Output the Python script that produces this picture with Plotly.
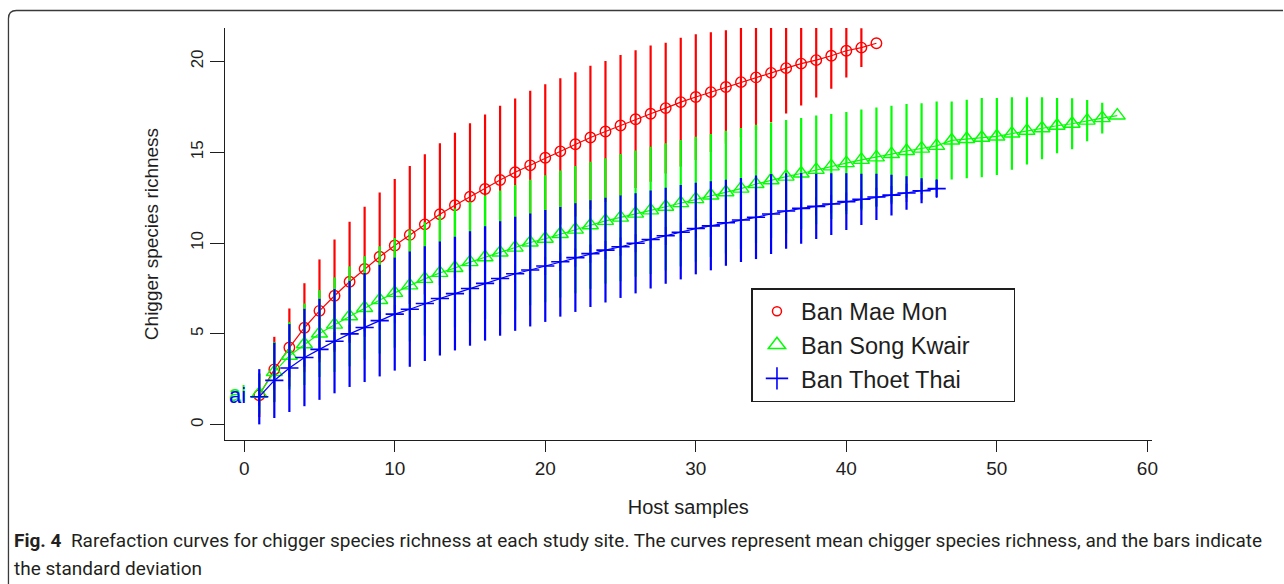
import plotly.graph_objects as go

# Rarefaction curves: mean chigger species richness and SD per number of host samples
samples_mae_mon = list(range(1, 43))
richness_mae_mon = [1.62, 3.05, 4.25, 5.34, 6.27, 7.10, 7.87, 8.57, 9.25, 9.87,
                    10.45, 11.03, 11.59, 12.08, 12.55, 12.98, 13.47, 13.90, 14.28, 14.70,
                    15.05, 15.44, 15.81, 16.14, 16.47, 16.82, 17.12, 17.43, 17.76, 18.04,
                    18.31, 18.59, 18.86, 19.12, 19.37, 19.63, 19.88, 20.07, 20.31, 20.59,
                    20.76, 21.00]
sd_mae_mon = [1.20, 1.79, 2.15, 2.45, 2.83, 3.10, 3.30, 3.43, 3.53, 3.66,
              3.80, 3.86, 3.91, 4.00, 4.05, 4.10, 4.09, 4.06, 4.10, 4.05,
              4.03, 3.97, 3.95, 3.88, 3.88, 3.79, 3.75, 3.60, 3.54, 3.46,
              3.30, 3.12, 3.04, 2.90, 2.72, 2.49, 2.30, 2.06, 1.82, 1.47,
              1.07, 0.00]

samples_song_kwair = list(range(1, 59))
richness_song_kwair = [1.70, 2.90, 3.80, 4.43, 5.02, 5.51, 5.97, 6.43, 6.87, 7.26,
                       7.67, 8.03, 8.36, 8.63, 8.95, 9.22, 9.48, 9.75, 10.03, 10.24,
                       10.50, 10.74, 10.98, 11.22, 11.40, 11.62, 11.80, 12.00, 12.20, 12.42,
                       12.62, 12.80, 13.00, 13.25, 13.46, 13.66, 13.83, 14.03, 14.22, 14.40,
                       14.58, 14.72, 14.90, 15.07, 15.20, 15.35, 15.65, 15.73, 15.80, 15.87,
                       16.03, 16.18, 16.32, 16.46, 16.57, 16.74, 16.88, 17.02]
sd_song_kwair = [1.10, 1.66, 1.86, 2.24, 2.39, 2.60, 2.75, 2.85, 2.95, 3.02,
                 3.08, 3.12, 3.15, 3.28, 3.33, 3.40, 3.41, 3.45, 3.45, 3.50,
                 3.50, 3.50, 3.50, 3.45, 3.50, 3.47, 3.50, 3.50, 3.48, 3.44,
                 3.39, 3.38, 3.33, 3.26, 3.18, 3.12, 3.05, 2.99, 2.89, 2.81,
                 2.77, 2.74, 2.66, 2.58, 2.50, 2.45, 2.15, 2.16, 2.18, 2.12,
                 2.00, 1.85, 1.71, 1.52, 1.40, 1.13, 0.85, 0.00]

samples_thoet_thai = list(range(1, 47))
richness_thoet_thai = [1.54, 2.44, 3.12, 3.70, 4.15, 4.60, 5.00, 5.35, 5.73, 6.09,
                       6.36, 6.67, 6.95, 7.22, 7.50, 7.78, 8.05, 8.31, 8.52, 8.74,
                       8.97, 9.20, 9.42, 9.61, 9.80, 9.99, 10.20, 10.40, 10.60, 10.80,
                       10.95, 11.12, 11.27, 11.42, 11.60, 11.77, 11.91, 12.02, 12.15, 12.28,
                       12.41, 12.54, 12.64, 12.76, 12.88, 13.00]
sd_thoet_thai = [1.52, 2.07, 2.42, 2.68, 2.78, 2.87, 2.92, 3.00, 3.07, 3.11,
                 3.17, 3.16, 3.14, 3.13, 3.15, 3.15, 3.15, 3.14, 3.11, 3.08,
                 3.02, 2.99, 2.94, 2.88, 2.82, 2.76, 2.70, 2.64, 2.60, 2.52,
                 2.45, 2.37, 2.31, 2.30, 2.20, 2.08, 1.95, 1.80, 1.70, 1.56,
                 1.41, 1.27, 1.12, 0.92, 0.69, 0.48]

site_names = ["Ban Mae Mon", "Ban Song Kwair", "Ban Thoet Thai"]
x_ticks = [0, 10, 20, 30, 40, 50, 60]
y_ticks = [0, 5, 10, 15, 20]

RED, GREEN, BLUE = "#FF0000", "#00FF00", "#0000FF"
INK = "#1e1e1e"
AXIS_FONT = "Liberation Sans, Arial, sans-serif"
CAP_FONT = "Roboto, Liberation Sans, sans-serif"

W, H = 1284, 584
plot_left, plot_right, plot_top, plot_bottom = 226, 1157, 28, 440

fig = go.Figure()

# Tail of a stray label block that sits at the panel's left edge
fig.add_trace(go.Scatter(
    x=[0.11], y=[1.6], mode="text", text=["ai"],
    textposition="middle left", textfont=dict(family=AXIS_FONT, size=22, color=GREEN),
    showlegend=False, hoverinfo="skip"))
fig.add_trace(go.Scatter(
    x=[0.13], y=[1.5], mode="text", text=["ai"],
    textposition="middle left", textfont=dict(family=AXIS_FONT, size=22, color=BLUE),
    showlegend=False, hoverinfo="skip"))

series = [
    (samples_mae_mon, richness_mae_mon, sd_mae_mon, RED,
     dict(symbol="circle-open", size=10.5, color=RED, line=dict(width=1.4, color=RED))),
    (samples_song_kwair, richness_song_kwair, sd_song_kwair, GREEN,
     dict(symbol="triangle-up-open", size=14, color=GREEN, line=dict(width=1.4, color=GREEN))),
    (samples_thoet_thai, richness_thoet_thai, sd_thoet_thai, BLUE,
     dict(symbol="cross-thin-open", size=13, color=BLUE, line=dict(width=1.6, color=BLUE))),
]

for xs, ys, sds, col, mk in series:
    fig.add_trace(go.Scatter(
        x=xs, y=ys, mode="lines+markers",
        line=dict(color=col, width=1.2),
        marker=mk,
        error_y=dict(type="data", array=sds, visible=True, color=col,
                     thickness=2.2, width=0),
        showlegend=False, cliponaxis=True))

# Legend entries (symbols only)
legend_markers = [
    dict(symbol="circle-open", size=9, color=RED, line=dict(width=1.5, color=RED)),
    dict(symbol="triangle-up-open", size=15, color=GREEN, line=dict(width=1.5, color=GREEN)),
    dict(symbol="cross-thin-open", size=16, color=BLUE, line=dict(width=1.6, color=BLUE)),
]
PAD = "\u00a0" * 6
for name, mk in zip(site_names, legend_markers):
    fig.add_trace(go.Scatter(x=[None], y=[None], mode="markers", name=name + PAD,
                             marker=mk, showlegend=True))

fig.update_layout(
    width=W, height=H,
    margin=dict(l=0, r=0, t=0, b=0),
    paper_bgcolor="white", plot_bgcolor="white",
    showlegend=True,
    legend=dict(
        x=755 / W, y=1 - 288 / H, xanchor="left", yanchor="top",
        bordercolor=INK, borderwidth=1.5, bgcolor="white",
        font=dict(family=AXIS_FONT, size=23.5, color=INK),
        itemsizing="trace", itemwidth=38, tracegroupgap=0,
    ),
    xaxis=dict(
        domain=[plot_left / W, plot_right / W],
        range=[-1.28, 60.28], tickvals=x_ticks,
        showline=True, linecolor=INK, linewidth=1.3, mirror=False,
        ticks="outside", ticklen=11, tickwidth=1.3, tickcolor=INK,
        showgrid=False, zeroline=False,
        tickfont=dict(family=AXIS_FONT, size=19, color=INK),
        title=dict(text="Host samples", standoff=22,
                   font=dict(family=AXIS_FONT, size=20, color=INK)),
    ),
    yaxis=dict(
        domain=[1 - plot_bottom / H, 1 - plot_top / H],
        range=[-0.84, 21.84], tickvals=y_ticks, tickangle=-90,
        showline=True, linecolor=INK, linewidth=1.3, mirror=False,
        ticks="outside", ticklen=14, tickwidth=1.3, tickcolor=INK,
        showgrid=False, zeroline=False,
        tickfont=dict(family=AXIS_FONT, size=17, color=INK),
        title=dict(text="Chigger species richness", standoff=24,
                   font=dict(family=AXIS_FONT, size=19, color=INK)),
    ),
)

# Rounded frame around the figure panel (open to the right and bottom)
fx, fy, rad = 8.5, 10.5, 8.0
def px(x):
    return x / W
def py(y):
    return 1 - y / H
frame_path = (f"M {px(fx)},{py(H + 5)} L {px(fx)},{py(fy + rad)} "
              f"Q {px(fx)},{py(fy)} {px(fx + rad)},{py(fy)} L {px(W + 5)},{py(fy)}")
fig.add_shape(type="path", path=frame_path, xref="paper", yref="paper",
              line=dict(color="#3a3a3a", width=1.3))

# Caption
fig.add_annotation(
    x=12 / W, y=py(540), xref="paper", yref="paper", xanchor="left", yanchor="middle",
    showarrow=False, align="left",
    text="<b>Fig. 4</b>  Rarefaction curves for chigger species richness at each study site. "
         "The curves represent mean chigger species richness, and the bars indicate",
    font=dict(family=CAP_FONT, size=19, color="#231f20"))
fig.add_annotation(
    x=12 / W, y=py(568), xref="paper", yref="paper", xanchor="left", yanchor="middle",
    showarrow=False, align="left",
    text="the standard deviation",
    font=dict(family=CAP_FONT, size=19, color="#231f20"))

fig.write_html("out.html")
